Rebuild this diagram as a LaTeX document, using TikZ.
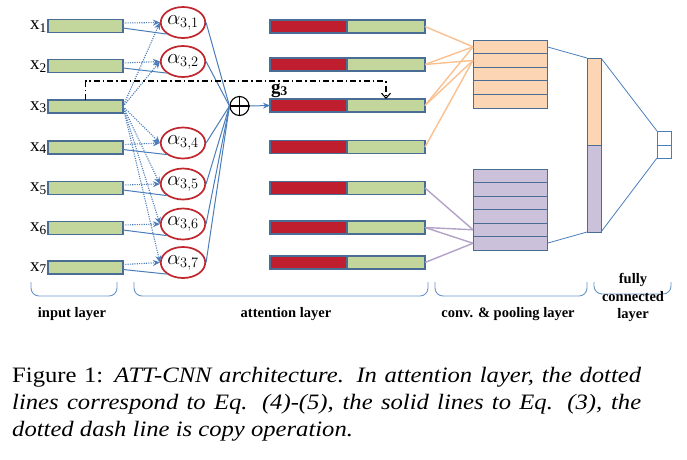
\documentclass[tikz,border=0pt]{standalone}
\usepackage{fontspec}
\setmainfont{Liberation Serif}
\newfontfamily\capfont{Liberation Serif}[FakeStretch=1.12]
\usetikzlibrary{arrows.meta,shapes.geometric}
\definecolor{barborder}{HTML}{4A6D96}
\definecolor{barfill}{HTML}{C3D69B}
\definecolor{barred}{HTML}{BE1E2D}
\definecolor{ellred}{HTML}{C0262D}
\definecolor{lineblue}{HTML}{4A7EBB}
\definecolor{orfill}{HTML}{FCD5B5}
\definecolor{orline}{HTML}{FAC090}
\definecolor{pufill}{HTML}{CCC1DA}
\definecolor{puline}{HTML}{B3A2C7}
\definecolor{bracecol}{HTML}{6A93C8}
\begin{document}
\begin{tikzpicture}[x=1pt,y=-1pt,
  inbar/.style={draw=barborder, fill=barfill, line width=1.2pt, minimum width=75pt, minimum height=13pt, inner sep=0pt, outer sep=0pt},
  redpart/.style={draw=barborder, fill=barred, line width=1.2pt, minimum width=77pt, minimum height=13pt, inner sep=0pt, outer sep=0pt},
  greenpart/.style={draw=barborder, fill=barfill, line width=1.2pt, minimum width=78pt, minimum height=13pt, inner sep=0pt, outer sep=0pt},
  alphanode/.style={ellipse, draw=ellred, fill=white, line width=1.7pt, minimum width=40pt, minimum height=31pt, inner sep=0pt, font=\fontsize{19.5}{21}\selectfont},
  xlab/.style={inner sep=0pt, font=\fontsize{19}{20}\selectfont},
  conn/.style={draw=lineblue, line width=1pt},
  dotarrow/.style={draw=lineblue, line width=1.1pt, dash pattern=on 1.1pt off 1.2pt, -{Stealth[length=7pt,width=6pt]}},
  copyline/.style={draw=black, line width=1.1pt, dash pattern=on 6pt off 3pt on 1.5pt off 3pt},
  orrow/.style={draw=barborder, fill=orfill, line width=1pt, minimum width=74pt, minimum height=13.6pt, inner sep=0pt, outer sep=0pt},
  purow/.style={draw=barborder, fill=pufill, line width=1pt, minimum width=74pt, minimum height=13.5pt, inner sep=0pt, outer sep=0pt},
  orconn/.style={draw=orline, line width=1.4pt},
  puconn/.style={draw=puline, line width=1.4pt},
  thinconn/.style={draw=lineblue, line width=0.8pt},
  bracepath/.style={draw=bracecol, line width=0.9pt, rounded corners=8pt},
  layerlab/.style={inner sep=0pt, font=\fontsize{14.5}{18}\selectfont\bfseries},
  caplab/.style={inner sep=0pt, anchor=base west, font=\capfont\fontsize{22}{26}\selectfont}
]
\useasboundingbox (0,0) rectangle (687,459);

% input bars and labels
\foreach \i/\y in {1/26,2/66,3/106.5,4/147.5,5/188,6/228,7/267.5} {
  \node[inbar] (in\i) at (85.5,\y) {};
  \node[xlab, anchor=base east] (xl\i) at (47,\y+3.5) {x\textsubscript{\i}};
}

% alpha ellipses
\foreach \i/\y in {1/22.5,2/61.5,4/143,5/184,6/224,7/262.5} {
  \node[alphanode] (al\i) at (183,\y) {$\alpha_{3,\i}$};
}

% attention bars
\foreach \i/\y in {1/26.5,2/64.5,3/105.5,4/147,5/188,6/227.5,7/262.5} {
  \node[redpart] (ar\i) at (308.5,\y) {};
  \node[greenpart] (ag\i) at (386,\y) {};
}

% plus node
\node[circle, draw=black, fill=white, line width=1.1pt, minimum size=19pt, inner sep=0pt] (plus) at (239.5,106) {};
\draw[line width=1.1pt] (plus.north) -- (plus.south);
\draw[line width=1.1pt] (plus.west) -- (plus.east);

% connections input -> alpha
\foreach \i in {1,2,4,5,6,7} {
  \draw[dotarrow] ([yshift=3pt]in\i.east) -- (al\i.west);
  \draw[conn] ([yshift=-2pt]in\i.east) -- (al\i.south west);
  \draw[dotarrow] (in3.east) -- (al\i.west);
  \draw[conn] (al\i.east) -- (plus.west);
}
\draw[conn, -{Stealth[length=7pt,width=6pt]}] (plus.east) -- (ar3.west);

% copy operation
\coordinate (cpy) at (0,81);
\draw[copyline, -{Straight Barb[length=5pt,width=9pt]}] (in3.north) -- (in3.north |- cpy) -- (ag3.north |- cpy) -- (ag3.north);
\node[anchor=base west, inner sep=0pt, font=\fontsize{19}{20}\selectfont] (g3lab) at (271,93) {\textbf{g\textsubscript{3}}};

% conv blocks
\foreach \k in {1,...,5} { \node[orrow] (or\k) at (510,40+13.6*\k-6.8) {}; }
\foreach \k in {1,...,6} { \node[purow] (pu\k) at (510,169+13.5*\k-6.75) {}; }

\draw[orconn] (ag1.east) -- (or1.west);
\draw[orconn] (ag2.east) -- (or1.west);
\draw[orconn] (ag3.east) -- (or1.west);
\draw[orconn] (ag2.east) -- (or2.west);
\draw[orconn] (ag3.east) -- (or2.west);
\draw[orconn] (ag4.east) -- (or2.west);
\draw[puconn] (ag5.east) -- (pu5.west);
\draw[puconn] (ag6.east) -- (pu5.west);
\draw[puconn] (ag6.east) -- (pu6.west);
\draw[puconn] (ag7.east) -- (pu6.west);

% fully connected column
\node[draw=barborder, fill=orfill, line width=1pt, minimum width=14pt, minimum height=87pt, inner sep=0pt, outer sep=0pt] (fco) at (594,101.5) {};
\node[draw=barborder, fill=pufill, line width=1pt, minimum width=14pt, minimum height=87pt, inner sep=0pt, outer sep=0pt] (fcp) at (594,188.5) {};
\node[draw=lineblue, fill=white, line width=0.9pt, minimum width=14pt, minimum height=14pt, inner sep=0pt, outer sep=0pt] (out1) at (664,138) {};
\node[draw=lineblue, fill=white, line width=0.9pt, minimum width=14pt, minimum height=13pt, inner sep=0pt, outer sep=0pt] (out2) at (664,151.5) {};

\draw[thinconn] (or1.east) -- (fco.north west);
\draw[thinconn] (pu6.east) -- (fcp.south west);
\draw[thinconn] (fco.north east) -- (out1.north west);
\draw[thinconn] (fcp.south east) -- (out2.south west);

% braces
\draw[bracepath] (31,282) -- (31,296) -- (117,296) -- (117,282);
\draw[bracepath] (134,282) -- (134,296) -- (428,296) -- (428,282);
\draw[bracepath] (435,282) -- (435,296) -- (587,296) -- (587,282);
\draw[bracepath] (594,282) -- (594,294) -- (671,294) -- (671,282);

% layer labels
\node[layerlab, anchor=base] (l1) at (72,317) {input layer};
\node[layerlab, anchor=base] (l2) at (286,317) {attention layer};
\node[layerlab, anchor=base] (l3) at (508,317) {conv. \& pooling layer};
\node[layerlab, anchor=base] (l4a) at (633,283) {fully};
\node[layerlab, anchor=base] (l4b) at (633,301) {connected};
\node[layerlab, anchor=base] (l4c) at (633,318) {layer};

% caption
\node[caplab] (cap1) at (12,382.7) {\makebox[629pt][s]{Figure 1: \textit{ATT-CNN architecture. In attention layer, the dotted}}};
\node[caplab] (cap2) at (12,409.5) {\makebox[629pt][s]{\textit{lines correspond to Eq. (4)-(5), the solid lines to Eq. (3), the}}};
\node[caplab] (cap3) at (12,436) {\textit{dotted dash line is copy operation.}};
\end{tikzpicture}
\end{document}
